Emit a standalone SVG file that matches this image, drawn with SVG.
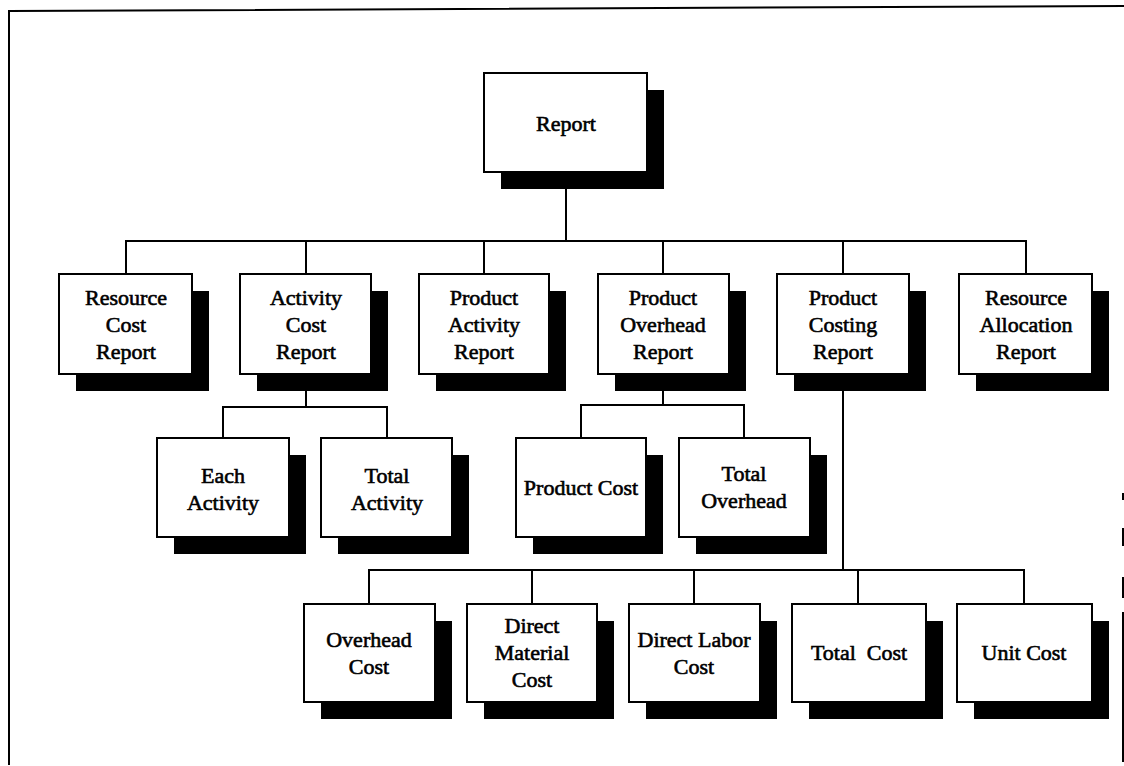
<svg xmlns="http://www.w3.org/2000/svg" width="1124" height="766" viewBox="0 0 1124 766">
  <style>
    .frame { fill: none; stroke: #000; stroke-width: 2; }
    .box { fill: #fff; stroke: #000; stroke-width: 2; }
    .shadow { fill: #000; }
    .link { fill: none; stroke: #000; stroke-width: 2; }
    .label { font-family: "Liberation Serif", "Times New Roman", serif; font-size: 22px; fill: #000; stroke: #000; stroke-width: 0.6; text-anchor: middle; white-space: pre; }
  </style>

  <!-- page frame (open at the bottom, right edge only partly printed) -->
  <g id="frame">
    <path class="frame" d="M9,765 L9,11 L1124,6"/>
    <path class="frame" stroke-width="1.5" d="M1123,493 L1123,500 M1123,528 L1123,546 M1123,577 L1123,598 M1123,612 L1123,762"/>
  </g>

  <!-- connectors -->
  <g id="connectors">
    <!-- root to first level -->
    <path class="link" d="M566,172 L566,241 M126,274 L126,241 L1026,241 L1026,274 M306,241 L306,274 M484,241 L484,274 M663,241 L663,274 M843,241 L843,274"/>
    <!-- Activity Cost Report children -->
    <path class="link" d="M306,374 L306,407 M223,438 L223,407 L387,407 L387,438"/>
    <!-- Product Overhead Report children -->
    <path class="link" d="M663,374 L663,405 M581,438 L581,405 L744,405 L744,438"/>
    <!-- Product Costing Report children -->
    <path class="link" d="M843,374 L843,570 M369,604 L369,570 L1024,570 L1024,604 M532,570 L532,604 M694,570 L694,604 M858,570 L858,604"/>
  </g>

  <!-- root -->
  <g id="report">
    <rect class="shadow" x="501" y="90" width="163" height="99"/>
    <rect class="box" x="484" y="73" width="163" height="99"/>
    <text class="label" x="566" y="131">Report</text>
  </g>

  <!-- first level -->
  <g id="resource-cost-report">
    <rect class="shadow" x="76" y="291" width="133" height="100"/>
    <rect class="box" x="59" y="274" width="133" height="100"/>
    <text class="label" x="126" y="305">Resource</text>
    <text class="label" x="126" y="332">Cost</text>
    <text class="label" x="126" y="359">Report</text>
  </g>
  <g id="activity-cost-report">
    <rect class="shadow" x="257" y="291" width="131" height="100"/>
    <rect class="box" x="240" y="274" width="131" height="100"/>
    <text class="label" x="306" y="305">Activity</text>
    <text class="label" x="306" y="332">Cost</text>
    <text class="label" x="306" y="359">Report</text>
  </g>
  <g id="product-activity-report">
    <rect class="shadow" x="436" y="291" width="130" height="100"/>
    <rect class="box" x="419" y="274" width="130" height="100"/>
    <text class="label" x="484" y="305">Product</text>
    <text class="label" x="484" y="332">Activity</text>
    <text class="label" x="484" y="359">Report</text>
  </g>
  <g id="product-overhead-report">
    <rect class="shadow" x="615" y="291" width="131" height="100"/>
    <rect class="box" x="598" y="274" width="131" height="100"/>
    <text class="label" x="663" y="305">Product</text>
    <text class="label" x="663" y="332">Overhead</text>
    <text class="label" x="663" y="359">Report</text>
  </g>
  <g id="product-costing-report">
    <rect class="shadow" x="794" y="291" width="132" height="100"/>
    <rect class="box" x="777" y="274" width="132" height="100"/>
    <text class="label" x="843" y="305">Product</text>
    <text class="label" x="843" y="332">Costing</text>
    <text class="label" x="843" y="359">Report</text>
  </g>
  <g id="resource-allocation-report">
    <rect class="shadow" x="976" y="291" width="133" height="100"/>
    <rect class="box" x="959" y="274" width="133" height="100"/>
    <text class="label" x="1026" y="305">Resource</text>
    <text class="label" x="1026" y="332">Allocation</text>
    <text class="label" x="1026" y="359">Report</text>
  </g>

  <!-- second level -->
  <g id="each-activity">
    <rect class="shadow" x="174" y="455" width="132" height="99"/>
    <rect class="box" x="157" y="438" width="132" height="99"/>
    <text class="label" x="223" y="483">Each</text>
    <text class="label" x="223" y="510">Activity</text>
  </g>
  <g id="total-activity">
    <rect class="shadow" x="338" y="455" width="131" height="99"/>
    <rect class="box" x="321" y="438" width="131" height="99"/>
    <text class="label" x="387" y="483">Total</text>
    <text class="label" x="387" y="510">Activity</text>
  </g>
  <g id="product-cost">
    <rect class="shadow" x="533" y="455" width="130" height="99"/>
    <rect class="box" x="516" y="438" width="130" height="99"/>
    <text class="label" x="581" y="495">Product Cost</text>
  </g>
  <g id="total-overhead">
    <rect class="shadow" x="696" y="455" width="131" height="99"/>
    <rect class="box" x="679" y="438" width="131" height="99"/>
    <text class="label" x="744" y="481">Total</text>
    <text class="label" x="744" y="508">Overhead</text>
  </g>

  <!-- third level -->
  <g id="overhead-cost">
    <rect class="shadow" x="321" y="621" width="131" height="98"/>
    <rect class="box" x="304" y="604" width="131" height="98"/>
    <text class="label" x="369" y="647">Overhead</text>
    <text class="label" x="369" y="674">Cost</text>
  </g>
  <g id="direct-material-cost">
    <rect class="shadow" x="484" y="621" width="130" height="98"/>
    <rect class="box" x="467" y="604" width="130" height="98"/>
    <text class="label" x="532" y="633">Direct</text>
    <text class="label" x="532" y="660">Material</text>
    <text class="label" x="532" y="687">Cost</text>
  </g>
  <g id="direct-labor-cost">
    <rect class="shadow" x="646" y="621" width="131" height="98"/>
    <rect class="box" x="629" y="604" width="131" height="98"/>
    <text class="label" x="694" y="647">Direct Labor</text>
    <text class="label" x="694" y="674">Cost</text>
  </g>
  <g id="total-cost">
    <rect class="shadow" x="809" y="621" width="134" height="98"/>
    <rect class="box" x="792" y="604" width="134" height="98"/>
    <text class="label" x="859" y="660">Total  Cost</text>
  </g>
  <g id="unit-cost">
    <rect class="shadow" x="974" y="621" width="135" height="98"/>
    <rect class="box" x="957" y="604" width="135" height="98"/>
    <text class="label" x="1024" y="660">Unit Cost</text>
  </g>
</svg>
